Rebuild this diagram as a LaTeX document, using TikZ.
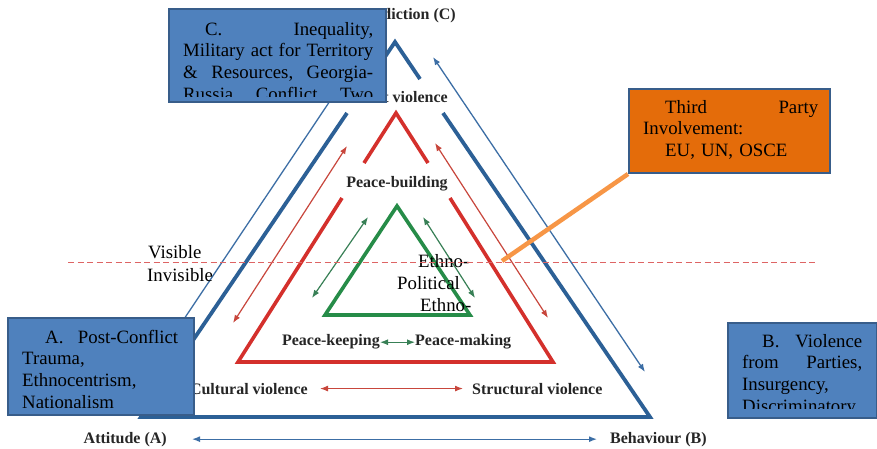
\documentclass[tikz,border=0pt]{standalone}
\usepackage{fontspec}
\setmainfont{Liberation Serif}
\usetikzlibrary{arrows.meta}
\definecolor{bthick}{RGB}{44,96,150}
\definecolor{bthin}{RGB}{60,110,165}
\definecolor{rthick}{RGB}{212,48,44}
\definecolor{rthin}{RGB}{200,70,60}
\definecolor{gthick}{RGB}{38,140,72}
\definecolor{gthin}{RGB}{56,128,86}
\definecolor{dashred}{RGB}{222,100,100}
\definecolor{orline}{RGB}{247,150,70}
\definecolor{boxblue}{RGB}{79,129,189}
\definecolor{boxedge}{RGB}{56,93,138}
\definecolor{boxorange}{RGB}{228,108,10}
\tikzset{
  thickblue/.style={draw=bthick, line width=3.8pt, line join=miter},
  thickred/.style={draw=rthick, line width=3.6pt, line join=miter},
  thickgreen/.style={draw=gthick, line width=3.6pt, line join=miter},
  twoway/.style={{Latex[length=8pt,width=6pt]}-{Latex[length=8pt,width=6pt]}},
  thinblue/.style={draw=bthin, line width=1.3pt},
  thinred/.style={draw=rthin, line width=1.2pt},
  thingreen/.style={draw=gthin, line width=1.2pt},
  boldlab/.style={inner sep=0pt, font=\bfseries\fontsize{16}{19}\selectfont, text=black!85},
  plainlab/.style={inner sep=0pt, font=\fontsize{18.8}{21.8}\selectfont},
  boxtext/.style={inner sep=0pt, font=\fontsize{18.8}{21.8}\selectfont, text width=#1, align=left},
  bluebox/.style={fill=boxblue, draw=boxedge, line width=2pt, anchor=north west, inner sep=0pt},
  orangebox/.style={fill=boxorange, draw=boxedge, line width=2pt, anchor=north west, inner sep=0pt}
}
\begin{document}
\begin{tikzpicture}[x=1pt,y=-1pt]
\useasboundingbox[fill=white] (0,0) rectangle (877,448);

% outer blue triangle
\coordinate (OA) at (141,417);
\coordinate (OB) at (650,417);
\coordinate (OC) at (395,42);
\coordinate (o1) at (370,79);
\coordinate (o2) at (420,79);
\coordinate (o3) at (347,113);
\coordinate (o4) at (443,113);
\draw[thickblue] (o1) -- (OC) -- (o2);
\draw[thickblue] (o3) -- (OA) -- (OB) -- (o4);

% red triangle
\coordinate (RA) at (238,362);
\coordinate (RB) at (553,362);
\coordinate (RC) at (396,113);
\coordinate (r1) at (364,163);
\coordinate (r2) at (428,163);
\coordinate (r3) at (342,198);
\coordinate (r4) at (450,198);
\draw[thickred] (r1) -- (RC) -- (r2);
\draw[thickred] (r3) -- (RA) -- (RB) -- (r4);

% green triangle
\coordinate (GA) at (325,315);
\coordinate (GB) at (470,315);
\coordinate (GC) at (397,206);
\draw[thickgreen] (GA) -- (GC) -- (GB) -- cycle;

% thin arrows
\coordinate (bl1) at (340,86);
\coordinate (bl2) at (178,328);
\draw[thinblue] (bl1) -- (bl2);
\coordinate (br1) at (433,57);
\coordinate (br2) at (645,372);
\draw[thinblue, twoway] (br1) -- (br2);
\coordinate (rl1) at (347,146);
\coordinate (rl2) at (233,323);
\draw[thinred, twoway] (rl1) -- (rl2);
\coordinate (rr1) at (435,143);
\coordinate (rr2) at (548,318);
\draw[thinred, twoway] (rr1) -- (rr2);
\coordinate (gl1) at (368,217);
\coordinate (gl2) at (312,298);
\draw[thingreen, twoway] (gl1) -- (gl2);
\coordinate (gr1) at (423,217);
\coordinate (gr2) at (475,298);
\draw[thingreen, twoway] (gr1) -- (gr2);

% labels
\node[boldlab, anchor=base east] (contr) at (456,19) {Contradiction (C)};
\node[boldlab, anchor=base east] (direct) at (448,102) {Direct violence};
\node[boldlab, anchor=base] (pbuild) at (397,187) {Peace-building};
\node[boldlab, anchor=base east] (pkeep) at (380,345) {Peace-keeping};
\node[boldlab, anchor=base west] (pmake) at (415,345) {Peace-making};
\draw[thingreen, twoway] (pkeep.east) ++(0pt,-1pt) coordinate (pk) (pk) -- (pmake.west |- pk);
\node[boldlab, anchor=base east] (cult) at (308,394) {Cultural violence};
\node[boldlab, anchor=base west] (struct) at (472,394) {Structural violence};
\draw[thinred, twoway] ([xshift=12pt]cult.east) -- ([xshift=-9pt]struct.west);
\node[boldlab, anchor=base east] (att) at (167,443) {Attitude (A)};
\node[boldlab, anchor=base west] (beh) at (610,443) {Behaviour (B)};
\draw[thinblue, twoway] ([xshift=25pt]att.east) -- ([xshift=-13pt]beh.west);

% visible / invisible
\coordinate (d1) at (68,262);
\coordinate (d2) at (818,262);
\node[plainlab, anchor=base west] (vis) at (148,258) {Visible};
\node[plainlab, anchor=base west] (invis) at (147,281) {Invisible};
\node[plainlab, anchor=base west] (eth1) at (418,267) {Ethno-};
\node[plainlab, anchor=base west] (pol) at (397,289) {Political};
\node[plainlab, anchor=base west] (eth2) at (420,311) {Ethno-};
\draw[dashred, line width=0.9pt, dash pattern=on 6pt off 3.5pt] (d1) -- (d2);

% orange connector and third-party box
\node[orangebox, minimum width=201pt, minimum height=84pt] (boxO) at (628,88) {};
\coordinate (ot) at (502,261);
\draw[orline, line width=4.5pt] (ot) -- (boxO.south west);
\node[orangebox, minimum width=201pt, minimum height=84pt] (boxO2) at (628,88) {};
\begin{scope}
\clip (631,91) rectangle (826,169);
\node[boxtext=175pt, anchor=base west] (txtO) at (643,113)
  {\hspace*{22pt}Third\hfill Party\\
   Involvement:\\
   \hspace*{22pt}EU, UN, OSCE};
\end{scope}

% box C
\node[bluebox, minimum width=217pt, minimum height=93pt] (boxC) at (168,8) {};
\begin{scope}
\clip (171,11) rectangle (382,96);
\node[boxtext=190pt, anchor=base west] (txtC) at (183,35)
  {\hspace*{22pt}C.\hfill Inequality,\\
   Military\hfill act\hfill for\hfill Territory\\
   \&\hfill Resources,\hfill Georgia-\\
   Russia\hfill Conflict\hfill Two};
\end{scope}

% box A
\node[bluebox, minimum width=186pt, minimum height=97pt] (boxA) at (7,317) {};
\begin{scope}
\clip (10,320) rectangle (190,407);
\node[boxtext=156pt, anchor=base west] (txtA) at (22,343)
  {\hspace*{23pt}A.\hfill Post-Conflict\\
   Trauma,\\
   Ethnocentrism,\\
   Nationalism};
\end{scope}

% box B
\node[bluebox, minimum width=149pt, minimum height=95pt] (boxB) at (727,322) {};
\begin{scope}
\clip (730,325) rectangle (873,408);
\node[boxtext=120pt, anchor=base west] (txtB) at (742,347)
  {\hspace*{20pt}B.\hfill Violence\\
   from\hfill Parties,\\
   Insurgency,\\
   Discriminatory};
\end{scope}
\end{tikzpicture}
\end{document}
